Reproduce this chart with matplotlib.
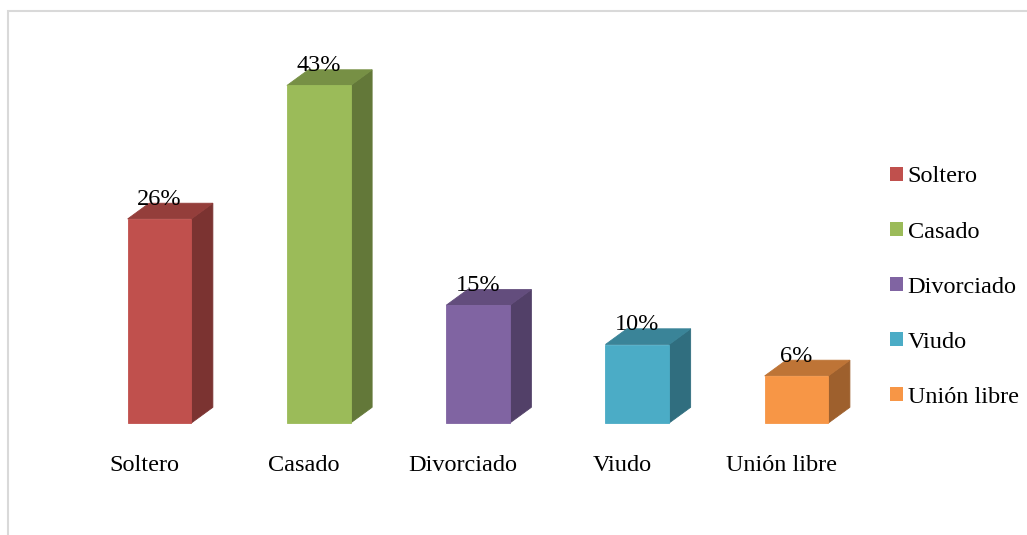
import matplotlib.pyplot as plt
from matplotlib.patches import Polygon, Patch, Rectangle
from matplotlib.colors import to_rgb

# Estado civil
categorias = ['Soltero', 'Casado', 'Divorciado', 'Viudo', 'Unión libre']
porcentajes = [26, 43, 15, 10, 6]
colores = ['#C0504D', '#9BBB59', '#8064A2', '#4BACC6', '#F79646']

plt.rcParams['font.family'] = ['Liberation Serif', 'DejaVu Serif']
fs = 17.5

ancho = 0.40      # ancho de la cara frontal
prof_x = 0.135    # profundidad (desplazamiento en x)
prof_y = 2.0      # profundidad (desplazamiento en y, en %)


def tono(c, f):
    r, g, b = to_rgb(c)
    return (r * f, g * f, b * f)


fig = plt.figure(figsize=(10.27, 5.35), dpi=100)
ax = fig.add_axes([0, 0, 1, 1])
ax.set_xlim(-1.0016, 5.447)
ax.set_ylim(-14.27, 53.89)
ax.axis('off')

for i, (v, c) in enumerate(zip(porcentajes, colores)):
    x0, x1 = i - ancho / 2, i + ancho / 2
    frente = Polygon([(x0, 0), (x1, 0), (x1, v), (x0, v)],
                     facecolor=c, edgecolor=tono(c, 1.0), lw=0.6)
    lado = Polygon([(x1, 0), (x1 + prof_x, prof_y), (x1 + prof_x, v + prof_y), (x1, v)],
                   facecolor=tono(c, 0.64), edgecolor=tono(c, 0.64), lw=0.6)
    techo = Polygon([(x0, v), (x1, v), (x1 + prof_x, v + prof_y), (x0 + prof_x, v + prof_y)],
                    facecolor=tono(c, 0.77), edgecolor=tono(c, 0.77), lw=0.6)
    for p in (lado, techo, frente):
        ax.add_patch(p)
    ax.text(i, v + prof_y - 0.2, f'{v}%', ha='center', va='baseline', fontsize=fs)
    ax.text(i - 0.097, -5.4, categorias[i], ha='center', va='center', fontsize=fs)

handles = [Patch(facecolor=c, edgecolor='none', label=n) for n, c in zip(categorias, colores)]
fig.legend(handles=handles, loc='upper left', bbox_to_anchor=(890 / 1027, 1 - 166.5 / 535),
           frameon=False, fontsize=fs, handlelength=0.55, handleheight=0.54,
           handletextpad=0.18, labelspacing=1.40, borderpad=0, borderaxespad=0)

# marco del gráfico
fig.patches.append(Rectangle((8 / 1027, -0.1), 1.2, 1.1 - 11 / 535, transform=fig.transFigure,
                             fill=False, edgecolor='#d9d9d9', lw=1.5))

fig.savefig('out.png', dpi=100)
